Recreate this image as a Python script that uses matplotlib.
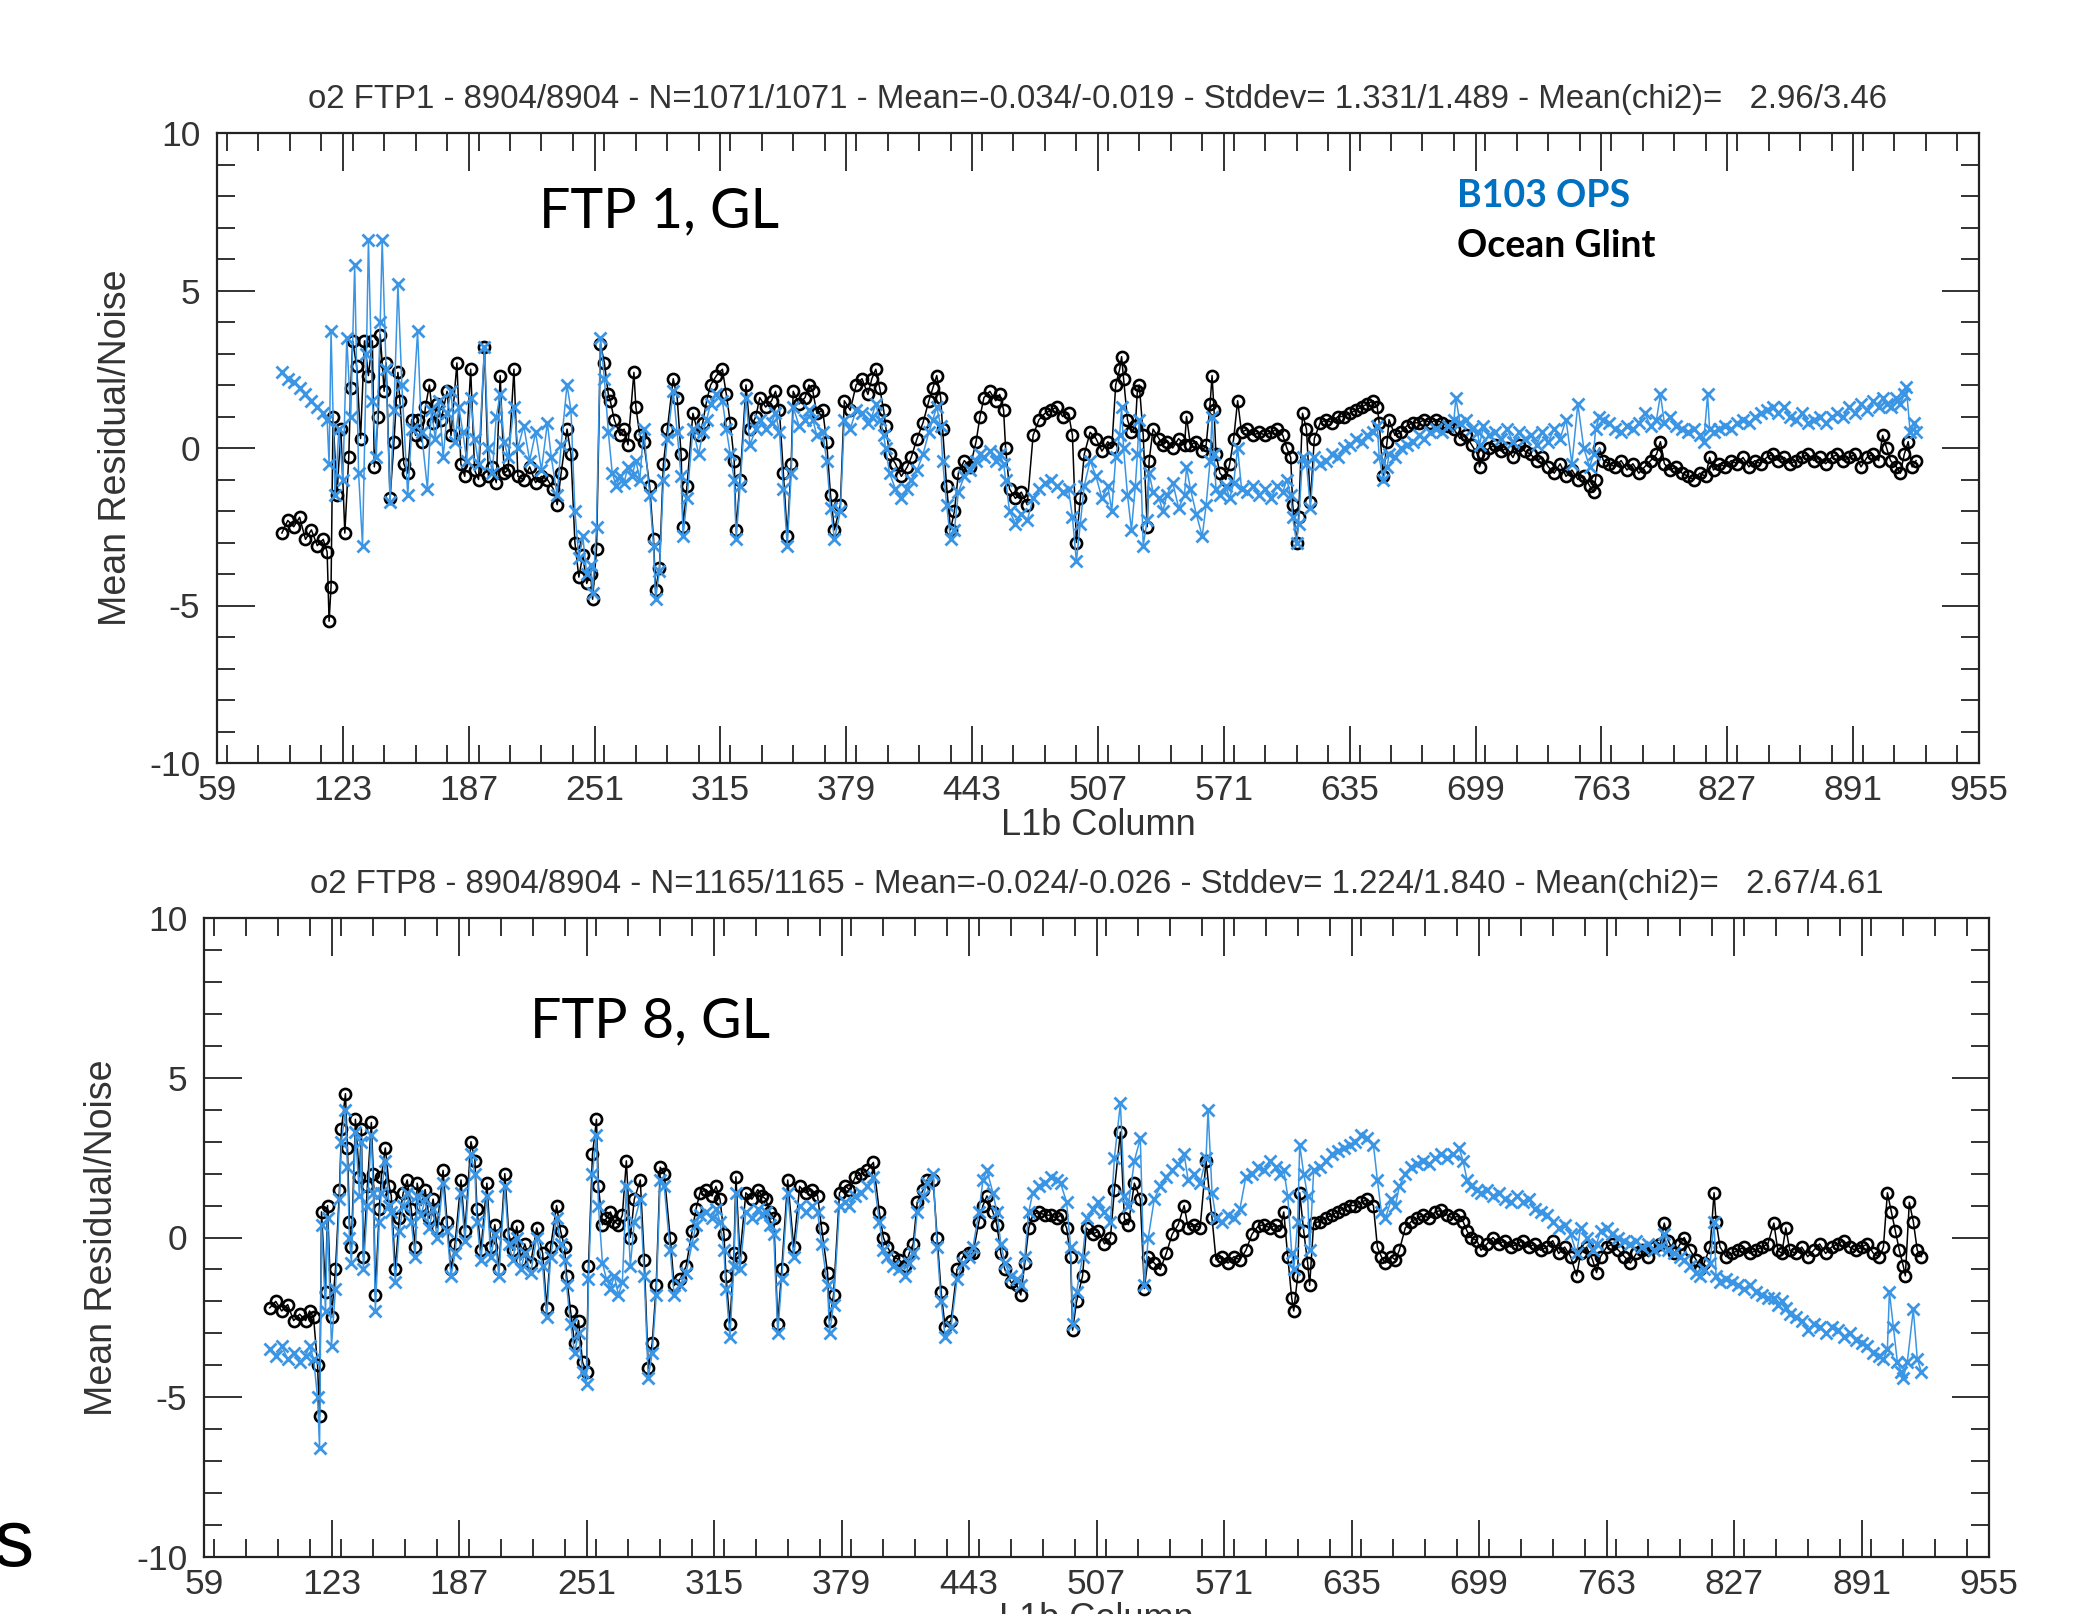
import matplotlib
matplotlib.use("Agg")
import matplotlib.pyplot as plt
from matplotlib.ticker import MultipleLocator, FixedLocator

plt.rcParams['font.family'] = ['Liberation Sans', 'DejaVu Sans']
plt.rcParams['axes.unicode_minus'] = False

# ---------------- data ----------------
top_black_x = [92,95,98,101,104,107,110,113,115,116,117,118,120,122,124,126,127,128,130,132,134,136,138,139,141,142,144,145,147,149,151,152,154,156,158,160,161,163,165,167,169,171,173,176,178,181,183,185,188,190,192,195,197,199,201,203,205,207,210,212,215,218,221,224,227,230,232,234,237,239,241,243,245,247,249,250,252,254,256,258,259,261,264,266,268,271,272,274,276,279,281,282,284,286,288,291,293,295,296,298,301,304,306,308,310,313,316,318,320,322,323,325,328,330,333,335,338,341,343,345,347,349,351,352,355,358,360,362,364,367,369,371,373,376,378,381,384,387,390,392,394,396,398,399,401,404,407,410,412,415,418,421,423,425,427,428,430,432,434,436,439,442,445,447,449,452,455,457,459,460,462,465,468,471,474,477,480,483,486,489,492,494,496,498,500,503,506,509,512,514,516,518,519,520,522,524,526,527,528,530,532,533,535,538,540,542,545,548,551,552,554,557,560,562,564,565,566,567,569,572,574,576,578,580,583,586,589,592,595,598,601,603,605,606,608,609,611,613,615,617,620,623,626,629,632,635,638,641,644,647,649,650,652,654,655,658,661,664,667,670,673,676,679,682,685,688,691,694,697,700,701,703,706,709,712,715,718,721,724,727,730,733,736,739,742,745,748,751,754,757,759,760,762,764,767,770,773,776,779,782,785,788,791,793,795,798,801,804,807,810,813,816,818,820,823,826,829,832,835,838,841,844,847,850,853,856,859,862,865,868,871,874,877,880,883,886,889,892,895,898,901,904,906,908,910,913,915,917,919,921,923]
top_black_y = [-2.7,-2.3,-2.5,-2.2,-2.9,-2.6,-3.1,-2.9,-3.3,-5.5,-4.4,1.0,-1.5,0.6,-2.7,-0.3,1.9,3.4,2.6,0.3,3.4,2.3,3.4,-0.6,1.0,3.6,1.8,2.7,-1.6,0.2,2.4,1.5,-0.5,-0.8,0.9,0.4,0.9,0.2,1.3,2.0,0.8,1.4,0.9,1.8,0.4,2.7,-0.5,-0.9,2.5,-0.7,-1.0,3.2,-0.9,-0.6,-1.1,2.3,-0.8,-0.7,2.5,-0.9,-1.0,-0.6,-1.1,-0.9,-1.0,-1.3,-1.8,-0.8,0.6,-0.2,-3.0,-4.1,-3.4,-4.3,-4.0,-4.8,-3.2,3.3,2.7,1.7,1.5,0.9,0.4,0.6,0.1,2.4,1.3,0.4,0.2,-1.2,-2.9,-4.5,-3.8,-0.5,0.6,2.2,1.6,-0.2,-2.5,-1.2,1.1,0.4,0.8,1.5,2.0,2.3,2.5,1.7,0.8,-0.4,-2.6,-1.0,2.0,0.6,1.0,1.6,1.3,1.5,1.8,1.2,-0.8,-2.8,-0.5,1.8,1.4,1.6,2.0,1.8,1.1,1.2,0.2,-1.5,-2.6,-1.8,1.5,1.2,2.0,2.2,1.7,2.2,2.5,1.9,1.2,0.7,-0.2,-0.5,-0.9,-0.6,-0.3,0.3,0.8,1.5,1.9,2.3,1.6,0.6,-1.2,-2.6,-2.0,-0.8,-0.4,-0.6,0.2,1.0,1.6,1.8,1.5,1.7,1.2,0.0,-1.3,-1.6,-1.4,-1.8,0.4,0.9,1.1,1.2,1.3,1.0,1.1,0.4,-3.0,-1.6,-0.2,0.5,0.3,-0.1,0.2,0.0,2.0,2.5,2.9,2.2,0.9,0.5,0.7,1.8,2.0,0.4,-2.5,-0.4,0.6,0.3,0.1,0.2,0.0,0.3,0.1,1.0,0.1,0.2,-0.1,0.1,1.4,2.3,1.2,-0.2,-0.8,-1.0,-0.5,0.3,1.5,0.5,0.6,0.4,0.5,0.4,0.5,0.6,0.4,0.0,-0.3,-1.8,-3.0,-2.2,1.1,0.6,-1.7,0.3,0.8,0.9,0.8,1.0,1.0,1.1,1.2,1.3,1.4,1.5,1.3,0.8,-0.9,0.2,0.9,0.4,0.5,0.7,0.8,0.8,0.9,0.8,0.9,0.8,0.7,0.6,0.3,0.4,0.1,-0.2,-0.6,-0.2,0.0,0.1,-0.1,0.0,-0.3,0.1,-0.1,-0.2,-0.4,-0.3,-0.6,-0.8,-0.5,-0.9,-0.7,-1.0,-0.9,-1.2,-1.4,-1.0,0.0,-0.4,-0.5,-0.6,-0.4,-0.7,-0.5,-0.8,-0.6,-0.4,-0.2,0.2,-0.5,-0.7,-0.6,-0.8,-0.9,-1.0,-0.8,-0.9,-0.3,-0.7,-0.5,-0.6,-0.4,-0.5,-0.3,-0.6,-0.4,-0.5,-0.3,-0.2,-0.4,-0.3,-0.5,-0.4,-0.3,-0.2,-0.4,-0.3,-0.5,-0.3,-0.2,-0.4,-0.3,-0.2,-0.6,-0.3,-0.2,-0.4,0.4,0.0,-0.4,-0.6,-0.8,-0.2,0.2,-0.6,-0.4]

top_blue_x = [92,95,98,101,104,107,110,113,115,116,117,119,121,123,125,127,129,131,133,135,136,138,140,142,143,145,147,149,151,153,156,158,161,163,166,168,170,172,174,176,178,180,182,184,186,188,190,192,195,197,199,201,203,205,207,210,212,215,218,221,224,227,229,232,234,237,239,241,243,245,247,249,250,252,254,256,258,260,262,264,266,268,270,272,274,276,279,281,282,284,286,288,291,293,295,296,298,301,304,306,308,310,313,316,318,320,322,323,325,328,330,333,335,338,341,343,345,347,349,351,352,355,358,360,362,364,367,369,371,373,376,378,381,384,387,390,392,394,396,398,399,401,404,407,410,412,415,418,421,423,425,427,428,430,432,434,436,439,442,445,447,449,452,455,457,459,460,462,465,468,471,474,477,480,483,486,489,492,494,496,498,500,503,506,509,512,514,516,518,519,520,522,524,526,527,528,530,532,533,535,538,540,542,545,548,551,552,554,557,560,562,564,565,566,567,569,572,574,576,578,580,583,586,589,592,595,598,601,603,605,606,608,609,611,613,615,617,620,623,626,629,632,635,638,641,644,647,649,650,652,654,655,658,661,664,667,670,673,676,679,682,685,688,689,691,694,697,700,701,703,706,709,712,715,718,721,724,727,730,733,736,739,742,745,748,751,754,757,759,760,762,764,767,770,773,776,779,782,785,788,791,793,795,798,801,804,807,810,813,815,817,818,820,823,826,829,832,835,838,841,844,847,850,853,856,859,862,865,868,871,874,877,880,883,886,889,892,895,898,901,904,906,908,910,913,915,917,918,920,922,923]
top_blue_y = [2.4,2.2,2.1,1.9,1.7,1.5,1.3,1.1,0.9,-0.5,3.7,-1.5,0.6,-1.0,3.5,1.0,5.8,-0.8,-3.1,3.0,6.6,1.5,-0.3,4.0,6.6,2.5,-1.7,1.2,5.2,2.0,-1.5,0.6,3.7,0.5,-1.3,1.2,0.3,1.5,-0.3,1.1,1.8,0.2,1.3,0.5,-0.4,1.6,0.3,-0.5,3.2,0.0,-0.8,1.0,1.7,0.2,-0.3,1.3,0.0,0.7,-0.4,0.5,-0.7,0.8,-0.3,-1.5,0.1,2.0,1.2,-2.0,-3.5,-2.8,-4.0,-3.7,-4.6,-2.5,3.5,2.2,0.5,-0.8,-1.2,-0.9,-1.1,-0.6,-0.9,-0.4,-1.0,0.6,-1.5,-3.1,-4.8,-3.9,-1.0,0.3,1.8,0.5,-0.9,-2.8,-1.6,0.6,-0.2,0.5,0.9,1.4,1.7,1.5,0.6,-0.2,-1.0,-2.9,-1.2,1.6,0.1,0.6,0.9,0.6,0.8,1.1,0.5,-1.3,-3.1,-0.8,1.3,0.7,0.9,1.2,0.9,0.4,0.5,-0.4,-1.9,-2.9,-2.0,0.9,0.6,1.2,1.1,0.8,1.0,1.4,0.9,0.4,0.0,-0.8,-1.3,-1.6,-1.3,-1.0,-0.7,-0.2,0.5,0.9,1.3,0.7,-0.4,-1.8,-2.9,-2.6,-1.4,-0.9,-0.7,-0.4,-0.2,-0.3,-0.1,-0.4,-0.2,-0.5,-1.0,-2.0,-2.4,-2.1,-2.3,-1.6,-1.3,-1.1,-1.0,-1.2,-1.4,-1.3,-2.2,-3.6,-2.4,-1.2,-0.4,-0.9,-1.6,-1.2,-2.0,-0.3,0.4,1.3,0.0,-1.5,-2.6,-1.2,-0.2,0.9,-3.1,-2.3,-0.8,-1.4,-1.6,-2.0,-1.5,-1.1,-1.9,-1.5,-0.6,-1.3,-2.1,-2.8,-1.8,-0.4,1.0,-0.2,-1.3,-1.5,-1.2,-1.6,-1.1,0.0,-1.3,-1.4,-1.2,-1.5,-1.3,-1.6,-1.2,-1.4,-1.0,-1.5,-2.2,-3.0,-2.4,-0.3,-0.5,-1.9,-0.3,-0.5,-0.4,-0.2,-0.3,0.0,0.1,0.3,0.2,0.4,0.5,0.7,-0.3,-1.0,-0.6,-0.2,-0.3,0.0,0.1,0.2,0.4,0.3,0.5,0.6,0.5,0.7,0.9,1.6,0.8,0.9,0.6,0.5,0.1,0.7,0.4,0.5,0.3,0.6,0.2,0.5,0.3,0.4,0.1,0.5,0.2,0.6,0.3,0.9,-0.5,1.4,0.0,-0.6,-0.2,0.6,1.0,0.9,0.8,0.6,0.5,0.7,0.6,0.8,1.1,0.7,0.9,1.7,0.8,1.0,0.7,0.6,0.5,0.6,0.4,0.2,1.7,0.6,0.5,0.6,0.7,0.6,0.8,0.9,0.8,1.0,1.1,1.2,1.3,1.1,1.3,1.0,0.9,1.1,0.8,0.9,1.0,0.8,1.0,1.1,1.0,1.3,1.1,1.4,1.2,1.5,1.3,1.6,1.4,1.3,1.6,1.4,1.7,1.95,0.5,0.8,0.5]

bot_black_x = [92,95,98,101,104,107,110,112,114,116,117,118,120,121,123,125,127,128,130,131,132,133,135,137,138,139,141,143,144,145,147,148,150,152,153,155,157,159,161,163,165,166,168,170,172,174,176,179,181,183,185,188,190,193,195,196,198,201,203,205,207,210,212,214,216,218,220,223,226,229,231,233,236,238,240,241,243,245,247,249,251,252,254,256,257,259,261,263,265,267,269,271,273,275,278,280,282,284,286,288,290,293,295,298,301,304,306,308,311,314,316,318,320,321,323,325,326,328,331,334,337,339,341,343,345,347,349,352,355,358,361,364,367,369,372,373,375,378,381,383,386,389,392,395,398,400,402,405,408,411,413,415,417,420,422,425,427,429,431,434,437,440,443,445,448,450,452,455,457,459,461,464,467,469,471,473,475,478,481,484,487,489,492,494,495,497,500,502,505,508,511,514,516,519,521,523,526,529,531,533,536,539,542,545,548,551,553,556,559,562,565,567,570,573,576,579,582,585,588,591,594,597,599,601,603,605,606,608,609,611,613,614,616,619,622,625,628,631,634,637,640,643,646,648,650,652,655,657,659,662,665,668,671,674,677,680,683,686,689,691,693,695,698,700,703,706,709,712,715,718,721,724,727,730,733,736,739,742,745,748,750,753,756,758,760,763,766,769,772,775,778,781,784,787,790,792,794,797,800,802,805,808,810,812,815,817,818,820,823,826,829,832,835,838,841,844,847,849,851,853,855,858,861,864,867,870,873,876,879,882,885,888,891,894,897,900,902,904,906,908,910,912,913,915,917,919,921]
bot_black_y = [-2.2,-2.0,-2.3,-2.1,-2.6,-2.4,-2.6,-2.3,-2.5,-4.0,-5.6,0.8,-1.7,1.0,-2.5,-1.0,1.5,3.4,4.5,2.8,0.5,-0.3,3.7,1.9,3.4,-0.6,1.6,3.6,2.0,-1.8,0.9,1.9,2.8,1.6,1.3,-1.0,0.6,1.4,1.8,0.9,-0.3,1.7,1.0,1.5,0.6,1.2,0.3,2.1,0.5,-1.0,-0.2,1.8,0.2,3.0,2.4,0.9,-0.4,1.7,-0.3,0.4,-1.0,2.0,0.1,-0.4,0.35,-0.7,-0.2,-0.8,0.3,-0.5,-2.2,-0.3,1.0,0.2,-0.3,-1.2,-2.3,-3.3,-2.6,-3.9,-4.2,-0.9,2.6,3.7,1.6,0.4,0.6,0.8,0.5,0.4,0.7,2.4,0.0,1.2,1.8,-0.7,-4.1,-3.3,-1.5,2.2,2.0,0.0,-1.5,-1.3,-0.9,0.2,0.9,1.4,1.5,1.3,1.6,1.2,0.1,-1.2,-2.7,-0.5,1.9,-0.6,1.4,1.2,1.5,1.3,1.2,0.8,0.6,-2.7,-1.0,1.8,-0.3,1.6,1.4,1.5,1.3,0.3,-1.1,-2.6,-1.8,1.4,1.6,1.5,1.9,2.0,2.1,2.35,0.8,0.0,-0.3,-0.6,-0.7,-0.9,-0.5,-0.2,1.1,1.5,1.8,1.8,0.0,-1.7,-2.8,-2.6,-1.0,-0.6,-0.5,-0.5,0.5,1.0,1.3,0.8,0.4,-0.5,-1.0,-1.4,-1.5,-1.8,-0.8,0.3,0.7,0.8,0.7,0.7,0.6,0.7,0.3,-0.6,-2.9,-2.0,-1.2,0.3,0.1,0.2,-0.2,0.0,1.5,3.3,0.6,0.4,1.7,1.2,-1.6,-0.6,-0.8,-1.0,-0.5,0.1,0.4,1.0,0.3,0.4,0.3,2.4,0.6,-0.7,-0.6,-0.8,-0.6,-0.7,-0.4,0.1,0.35,0.4,0.3,0.4,0.2,0.8,-0.6,-1.9,-2.3,-1.2,1.4,0.2,-0.8,-1.5,0.45,0.5,0.6,0.7,0.8,0.9,1.0,1.0,1.1,1.2,1.0,-0.3,-0.6,-0.8,-0.6,-0.7,-0.4,0.3,0.5,0.6,0.7,0.6,0.8,0.85,0.7,0.6,0.7,0.5,0.2,0.0,-0.1,-0.4,-0.2,0.0,-0.2,-0.1,-0.3,-0.2,-0.1,-0.3,-0.2,-0.4,-0.3,-0.1,-0.5,-0.3,-0.6,-1.2,-0.5,-0.3,-0.7,-1.1,-0.6,-0.3,-0.2,-0.4,-0.6,-0.8,-0.5,-0.4,-0.6,-0.3,-0.2,0.45,-0.1,-0.5,-0.2,0.0,-0.4,-0.7,-1.0,-0.8,-0.3,1.4,0.5,-0.3,-0.6,-0.5,-0.4,-0.3,-0.5,-0.4,-0.3,-0.2,0.45,-0.4,-0.5,0.3,-0.4,-0.5,-0.3,-0.6,-0.4,-0.2,-0.5,-0.3,-0.2,-0.1,-0.3,-0.4,-0.3,-0.2,-0.5,-0.6,-0.3,1.4,0.8,0.2,-0.4,-0.9,-1.2,1.1,0.5,-0.4,-0.6]

bot_blue_x = [92,95,98,101,104,107,110,112,114,116,117,118,120,121,123,125,127,128,130,131,132,133,135,137,138,139,141,143,144,145,147,148,150,152,153,155,157,159,161,163,165,166,168,170,172,174,176,179,181,183,185,188,190,193,195,196,198,201,203,205,207,210,212,214,216,218,220,223,226,229,231,233,236,238,240,241,243,245,247,249,251,252,254,256,257,259,261,263,265,267,269,271,273,275,278,280,282,284,286,288,290,293,295,298,301,304,306,308,311,314,316,318,320,321,323,325,326,328,331,334,337,339,341,343,345,347,349,352,355,358,361,364,367,369,372,373,375,378,381,383,386,389,392,395,398,400,402,405,408,411,413,415,417,420,422,425,427,429,431,434,437,440,443,445,448,450,452,455,457,459,461,464,467,469,471,473,475,478,481,484,487,489,492,494,495,497,500,502,505,508,511,514,516,519,521,523,526,529,531,533,536,539,542,545,548,551,553,556,559,562,563,565,567,570,573,576,579,582,585,588,591,594,597,599,601,603,605,606,608,609,611,613,614,616,619,622,625,628,631,634,637,640,643,646,648,650,652,655,657,659,662,665,668,671,674,677,680,683,686,689,691,693,695,698,700,703,706,709,712,715,718,721,724,727,730,733,736,739,742,745,748,750,753,756,758,760,763,766,769,772,775,778,781,784,787,790,792,794,797,800,802,805,808,810,812,815,817,818,820,823,826,829,832,835,838,841,844,847,849,851,853,855,858,861,864,867,870,873,876,879,882,885,888,891,894,897,900,902,904,905,907,909,911,912,914,917,919,921]
bot_blue_y = [-3.5,-3.7,-3.4,-3.8,-3.6,-3.9,-3.7,-3.4,-3.8,-5.0,-6.6,0.4,-2.3,0.6,-3.4,-1.6,1.2,3.0,4.0,2.2,0.0,-0.8,3.3,1.3,3.0,-1.0,1.0,3.2,1.4,-2.3,0.5,1.4,2.4,1.0,0.8,-1.4,0.2,1.0,1.4,0.5,-0.6,1.3,0.7,1.2,0.3,0.9,0.0,1.7,0.2,-1.2,-0.5,1.4,-0.1,2.6,2.0,0.5,-0.7,1.3,-0.6,0.1,-1.2,1.6,-0.2,-0.7,0.0,-1.0,-0.5,-1.1,0.0,-0.9,-2.5,-0.6,0.6,-0.2,-0.7,-1.5,-2.7,-3.6,-3.0,-4.2,-4.6,-1.3,2.0,3.2,1.0,-0.8,-1.3,-1.6,-1.2,-1.8,-1.4,1.6,-0.9,0.5,1.2,-1.2,-4.4,-3.6,-1.8,1.8,1.6,-0.4,-1.8,-1.5,-1.1,-0.2,0.4,0.7,0.8,0.6,0.9,0.5,-0.4,-1.6,-3.1,-0.9,1.4,-1.0,0.8,0.6,0.9,0.7,0.8,0.4,0.1,-3.0,-1.3,1.4,-0.6,1.0,0.8,1.0,0.8,-0.2,-1.5,-3.0,-2.1,1.0,1.1,1.0,1.3,1.4,1.6,1.9,0.5,-0.4,-0.6,-0.9,-1.0,-1.2,-0.8,-0.5,0.8,1.3,1.7,2.0,-0.3,-2.0,-3.1,-2.8,-1.3,-0.8,-0.6,-0.3,0.8,1.8,2.1,1.4,0.8,-0.2,-0.8,-1.2,-1.3,-1.5,-0.6,0.8,1.4,1.6,1.7,1.9,1.8,1.7,1.1,-0.3,-2.7,-1.7,-0.6,0.6,0.9,1.1,0.8,0.5,2.5,4.2,1.3,1.0,2.4,3.1,-1.5,0.0,1.2,1.6,1.9,2.1,2.3,2.6,1.8,2.0,1.7,2.5,4.0,1.4,0.6,0.5,0.7,0.6,0.9,1.9,2.0,2.2,2.1,2.4,2.2,2.0,2.1,1.3,-0.5,-1.0,0.5,2.9,2.0,1.3,-0.4,2.1,2.2,2.4,2.6,2.7,2.8,2.9,3.0,3.2,3.1,2.9,1.8,0.8,0.6,1.2,1.0,1.6,2.0,2.2,2.3,2.4,2.3,2.5,2.6,2.5,2.6,2.8,2.4,1.8,1.6,1.5,1.4,1.5,1.3,1.4,1.2,1.1,1.3,1.1,1.2,0.9,0.8,0.7,0.5,0.3,0.4,0.1,-0.5,0.3,0.0,-0.4,-0.2,0.2,0.3,0.1,0.0,-0.1,-0.2,-0.1,-0.3,-0.2,-0.4,-0.3,0.1,-0.4,-0.5,-0.6,-0.7,-0.9,-1.1,-1.2,-1.0,-0.8,0.5,-1.2,-1.4,-1.3,-1.4,-1.5,-1.6,-1.5,-1.7,-1.8,-1.9,-1.9,-2.1,-2.0,-2.2,-2.4,-2.5,-2.6,-2.9,-2.7,-2.8,-3.0,-2.8,-2.9,-3.1,-3.0,-3.2,-3.3,-3.4,-3.6,-3.7,-3.8,-3.5,-1.7,-2.8,-3.9,-4.2,-4.4,-3.9,-2.25,-3.8,-4.2]

x_major = [59, 123, 187, 251, 315, 379, 443, 507, 571, 635, 699, 763, 827, 891, 955]
y_major = [-10, -5, 0, 5, 10]

titles = ["o2 FTP1 - 8904/8904 - N=1071/1071 - Mean=-0.034/-0.019 - Stddev= 1.331/1.489 - Mean(chi2)=   2.96/3.46",
          "o2 FTP8 - 8904/8904 - N=1165/1165 - Mean=-0.024/-0.026 - Stddev= 1.224/1.840 - Mean(chi2)=   2.67/4.61"]
panel_labels = ["FTP 1, GL", "FTP 8, GL"]

BLUE = "#3a95e4"
TXT = "#333333"

fig = plt.figure(figsize=(20.87, 16.14), dpi=100)
ax1 = fig.add_axes([217/2087, 1-763/1614, (1979-217)/2087, (763-133)/1614])
ax2 = fig.add_axes([204/2087, 1-1557/1614, (1989-204)/2087, (1557-918)/1614])

data = [(top_black_x, top_black_y, top_blue_x, top_blue_y),
        (bot_black_x, bot_black_y, bot_blue_x, bot_blue_y)]

for ax, (bx, by, cx, cy), title in zip([ax1, ax2], data, titles):
    ax.plot(bx, by, color="black", lw=1.1, marker="o", ms=8, mfc="none",
            mec="black", mew=1.9, zorder=2)
    ax.plot(cx, cy, color=BLUE, lw=1.1, marker="x", ms=8.5, mec=BLUE,
            mew=2.0, zorder=3)
    ax.set_xlim(59, 955)
    ax.set_ylim(-10, 10)
    ax.xaxis.set_major_locator(FixedLocator(x_major))
    ax.xaxis.set_minor_locator(MultipleLocator(16))
    ax.yaxis.set_major_locator(FixedLocator(y_major))
    ax.yaxis.set_minor_locator(MultipleLocator(1))
    ax.set_xticklabels([str(v) for v in x_major])
    ax.set_yticklabels([str(v) for v in y_major])
    ax.tick_params(which="both", direction="in", top=True, right=True,
                   color="#222222", width=1.3)
    ax.tick_params(which="major", length=27, labelsize=25.5, labelcolor=TXT)
    ax.tick_params(axis="x", which="major", pad=8)
    ax.tick_params(axis="y", which="major", pad=12)
    ax.tick_params(which="minor", length=13)
    for s in ax.spines.values():
        s.set_linewidth(1.6)
        s.set_color("#222222")
    ax.set_title(title, fontsize=23.8, color=TXT, pad=18)
    ax.set_ylabel("Mean Residual/Noise", fontsize=27, color=TXT)
    ax.set_xlabel("L1b Column", fontsize=26, color=TXT)
    ax.yaxis.set_label_coords(-0.047, 0.5)
    ax.xaxis.set_label_coords(0.5, -0.071)

fig.text(539/2087, 1-212/1614, panel_labels[0], fontsize=40, family="Lato",
         va="center", ha="left", color="black")
fig.text(530/2087, 1-1022/1614, panel_labels[1], fontsize=40, family="Lato",
         va="center", ha="left", color="black")
fig.text(1457/2087, 1-196/1614, "B103 OPS", fontsize=27, family="Lato",
         fontweight="bold", va="center", ha="left", color="#0070C0")
fig.text(1457/2087, 1-246/1614, "Ocean Glint", fontsize=27, family="Lato",
         fontweight="bold", va="center", ha="left", color="black")
fig.text(-6/2087, 1-1545/1614, "s", fontsize=58, va="center", ha="left",
         color="black")

fig.savefig("out.png", dpi=100)
